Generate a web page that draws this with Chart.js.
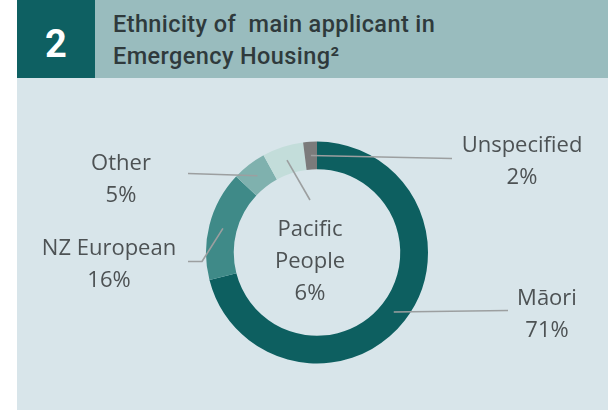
<!DOCTYPE html>
<html>
<head>
<meta charset="utf-8">
<script src="https://cdn.jsdelivr.net/npm/chart.js@4.4.1/dist/chart.umd.min.js"></script>
<style>
  html, body { margin: 0; padding: 0; background: #ffffff; }
  #page { position: relative; width: 608px; height: 411px; overflow: hidden; background: #ffffff; }
  #banner { position: absolute; left: 17px; top: 0; width: 591px; height: 78px; background: #99bcbe; }
  #badge { position: absolute; left: 17px; top: 0; width: 78px; height: 78px; background: #0e6062;
           color: #ffffff; font-family: Roboto, "Liberation Sans", sans-serif; font-weight: 700;
           font-size: 38px; line-height: 88px; text-align: center; }
  #title { position: absolute; left: 113px; top: 8px; color: #2f3a3c; white-space: pre;
           font-family: Roboto, "Liberation Sans", sans-serif; font-weight: 500; font-size: 23.5px;
           letter-spacing: 0.4px; line-height: 32px; }
  #panel { position: absolute; left: 17px; top: 78px; width: 591px; height: 332px; background: #d8e5ea; }
  #chart { position: absolute; left: 0; top: 0; }
  .lbl { position: absolute; transform: translateX(-50%); text-align: center; color: #4d5254;
         font-family: "Open Sans", "Noto Sans", sans-serif; font-size: 22px; line-height: 32px; white-space: pre; }
</style>
</head>
<body>
<div id="page">
  <div id="banner"></div>
  <div id="badge">2</div>
  <div id="title">Ethnicity of  main applicant in
Emergency Housing²</div>
  <div id="panel"></div>
  <canvas id="chart" width="608" height="411"></canvas>
</div>
<script>
// Ethnicity shares (%), clockwise from the top of the ring
const categories = ["Māori", "NZ European", "Other", "Pacific People", "Unspecified"];
const shares = [71, 16, 5, 6, 2];
const sliceColors = ["#0d5f60", "#3f8a88", "#7fb1ae", "#c3ddda", "#7b7b7b"];

// Where each label block sits (centre x, top y) and whether it wraps onto two lines
const labelBoxes = [
  { x: 547, y: 280, wrap: false },
  { x: 109, y: 230, wrap: false },
  { x: 121, y: 145, wrap: false },
  { x: 310, y: 211, wrap: true },
  { x: 522, y: 127, wrap: false }
];

// Leader-line paths: each starts at the slice centroid and follows these points
const leaderPaths = [
  [[508, 310.5]],
  [[202, 261.5], [188, 261.5]],
  [[188, 173.5]],
  [[310, 200]],
  [[452, 158.5]]
];

const page = document.getElementById("page");
categories.forEach((name, i) => {
  const box = labelBoxes[i];
  const div = document.createElement("div");
  div.className = "lbl";
  div.style.left = box.x + "px";
  div.style.top = box.y + "px";
  const nameText = box.wrap ? name.split(" ").join("\n") : name;
  div.textContent = nameText + "\n" + shares[i] + "%";
  page.appendChild(div);
});

const leaderLines = {
  id: "leaderLines",
  afterDatasetsDraw(chart) {
    const ctx = chart.ctx;
    const arcs = chart.getDatasetMeta(0).data;
    ctx.save();
    ctx.strokeStyle = "#9c9fa0";
    ctx.lineWidth = 1.6;
    ctx.lineJoin = "round";
    arcs.forEach((arc, i) => {
      const start = arc.tooltipPosition();
      ctx.beginPath();
      ctx.moveTo(start.x, start.y);
      leaderPaths[i].forEach(p => ctx.lineTo(p[0], p[1]));
      ctx.stroke();
    });
    ctx.restore();
  }
};

// Centre the ring at (317, 252.5) with an outer radius of 111
new Chart(document.getElementById("chart"), {
  type: "doughnut",
  data: {
    labels: categories,
    datasets: [{
      data: shares,
      backgroundColor: sliceColors,
      borderWidth: 0,
      hoverOffset: 0
    }]
  },
  options: {
    responsive: false,
    animation: false,
    cutout: "75%",
    layout: { padding: { left: 206, right: 180, top: 141.5, bottom: 47.5 } },
    plugins: { legend: { display: false }, tooltip: { enabled: false } },
    events: []
  },
  plugins: [leaderLines]
});
</script>
</body>
</html>
